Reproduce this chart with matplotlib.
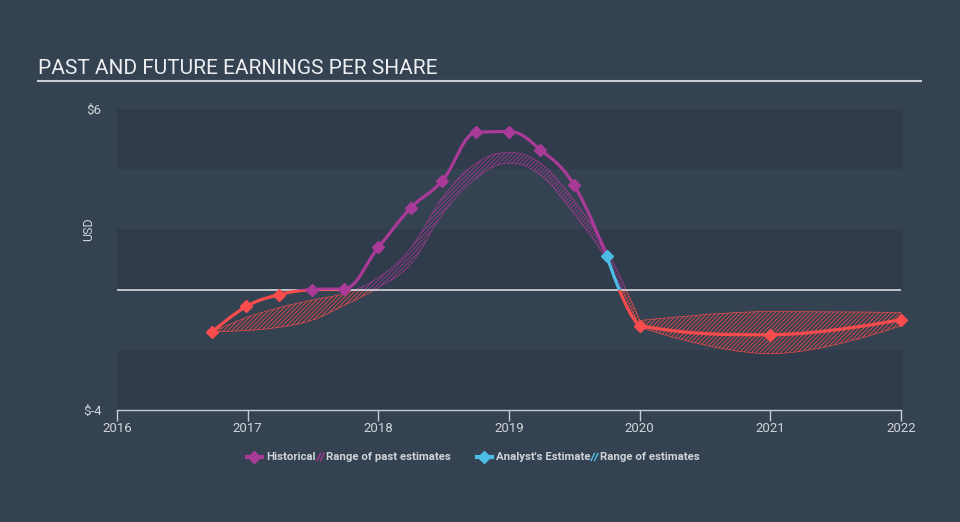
import numpy as np
import matplotlib
matplotlib.use('Agg')
import matplotlib.pyplot as plt
from matplotlib.path import Path
from matplotlib.patches import PathPatch, Rectangle
from matplotlib.lines import Line2D

plt.rcParams['font.family'] = ['Roboto', 'DejaVu Sans']
plt.rcParams['hatch.linewidth'] = 0.6

# Data (decimal year, EPS in USD)
hist_dates = [2016.73, 2016.99, 2017.24, 2017.49, 2017.74, 2018.0, 2018.25,
              2018.49, 2018.75, 2019.0, 2019.24, 2019.5, 2019.75]
hist_eps = [-1.40, -0.56, -0.17, 0.0, 0.03, 1.40, 2.72, 3.62, 5.22, 5.25,
            4.65, 3.46, 1.10]

past_dates = [2016.73, 2016.99, 2017.24, 2017.49, 2017.74, 2018.0, 2018.25,
              2018.49, 2018.75, 2019.0, 2019.24, 2019.5, 2019.75, 2020.0]
past_low = [-1.40, -1.36, -1.25, -1.02, -0.52, 0.07, 0.86, 2.50, 3.70, 4.19,
            3.80, 2.50, 0.95, -1.25]
past_high = [-1.40, -0.93, -0.60, -0.35, -0.12, 0.40, 1.40, 3.05, 4.20, 4.55,
             4.20, 2.95, 1.30, -1.00]

fc_dates = [2019.75, 2020.0, 2021.0, 2022.0]
fc_eps = [1.10, -1.20, -1.50, -1.00]

fc_range_dates = [2020.0, 2021.0, 2022.0]
fc_low = [-1.25, -2.13, -1.20]
fc_high = [-1.03, -0.73, -0.76]

x_ticks = [2016, 2017, 2018, 2019, 2020, 2021, 2022]

BG = '#354251'
BAND = '#303c4b'
MAGENTA = '#a93a98'
RED = '#f94c4c'
BLUE = '#4bbce4'
TXT = '#d0d4d9'
HATCH = '////////'


def spline_verts(xs, ys, smoothing=1.5):
    # cubic bezier control points, highcharts style
    n = len(xs)
    lc = [None] * n
    rc = [None] * n
    for i in range(n):
        x, y = xs[i], ys[i]
        if i == 0 or i == n - 1:
            lc[i] = rc[i] = (x, y)
            continue
        px, py = xs[i - 1], ys[i - 1]
        nx, ny = xs[i + 1], ys[i + 1]
        d = smoothing + 1
        lx, ly = (smoothing * x + px) / d, (smoothing * y + py) / d
        rx, ry = (smoothing * x + nx) / d, (smoothing * y + ny) / d
        if rx != lx:
            corr = ((ry - ly) * (rx - x)) / (rx - lx) + y - ry
            ly += corr
            ry += corr
        if ly > py and ly > y:
            ly = max(py, y); ry = 2 * y - ly
        elif ly < py and ly < y:
            ly = min(py, y); ry = 2 * y - ly
        if ry > ny and ry > y:
            ry = max(ny, y); ly = 2 * y - ry
        elif ry < ny and ry < y:
            ry = min(ny, y); ly = 2 * y - ry
        lc[i] = (lx, ly)
        rc[i] = (rx, ry)
    verts = [(xs[0], ys[0])]
    for i in range(1, n):
        verts += [rc[i - 1], lc[i], (xs[i], ys[i])]
    return verts


def line_path(xs, ys):
    v = spline_verts(xs, ys)
    codes = [Path.MOVETO] + [Path.CURVE4] * (len(v) - 1)
    return Path(v, codes)


def band_path(xs, lo, hi):
    up = spline_verts(xs, hi)
    dn = spline_verts(xs, lo)[::-1]
    verts = up + dn + [up[0]]
    codes = ([Path.MOVETO] + [Path.CURVE4] * (len(up) - 1) +
             [Path.LINETO] + [Path.CURVE4] * (len(dn) - 1) + [Path.CLOSEPOLY])
    return Path(verts, codes)


fig = plt.figure(figsize=(9.6, 5.22), dpi=100, facecolor=BG)
ax = fig.add_axes([117 / 960, 112 / 522, 784 / 960, 301 / 522])
ax.set_facecolor(BG)
ax.set_xlim(2016, 2022)
ax.set_ylim(-4, 6)

# horizontal bands
for y0 in (4, 0, -4):
    ax.axhspan(y0, y0 + 2, xmin=0, xmax=1.002, color=BAND, lw=0, zorder=0,
               clip_on=False)

pos_clip = Rectangle((2010, 0), 20, 20, transform=ax.transData)
neg_clip = Rectangle((2010, -20), 20, 20, transform=ax.transData)


def add_clipped_patch(path, color, clip, hatch=None, lw=2.3, z=3, alpha=1):
    p = PathPatch(path, facecolor='none', edgecolor=color, lw=lw,
                  hatch=hatch, zorder=z, capstyle='round', joinstyle='round',
                  alpha=alpha)
    ax.add_patch(p)
    p.set_clip_path(clip)
    return p


# range of past estimates
bp = band_path(past_dates, past_low, past_high)
add_clipped_patch(bp, MAGENTA, pos_clip, hatch=HATCH, lw=0.5, z=2, alpha=0.9)
add_clipped_patch(bp, RED, neg_clip, hatch=HATCH, lw=0.5, z=2, alpha=0.9)

# range of estimates
fp = band_path(fc_range_dates, fc_low, fc_high)
add_clipped_patch(fp, RED, neg_clip, hatch=HATCH, lw=0.5, z=2, alpha=0.9)

# zero line
ax.axhline(0, color='#e6e8ea', lw=1.1, zorder=2.5)

# historical line
hp = line_path(hist_dates, hist_eps)
add_clipped_patch(hp, MAGENTA, pos_clip)
add_clipped_patch(hp, RED, neg_clip)

# analyst estimate line
ep = line_path(fc_dates, fc_eps)
add_clipped_patch(ep, BLUE, pos_clip)
add_clipped_patch(ep, RED, neg_clip)

# markers
for d, v in zip(hist_dates[:-1], hist_eps[:-1]):
    ax.plot(d, v, marker='D', ms=6.5, color=RED if v < 0 else MAGENTA,
            zorder=5, clip_on=False)
ax.plot(fc_dates[0], fc_eps[0], marker='D', ms=6.5, color=BLUE, zorder=5)
for d, v in zip(fc_dates[1:], fc_eps[1:]):
    ax.plot(d, v, marker='D', ms=6.5, color=RED, zorder=5, clip_on=False)

# axes styling
for s in ('top', 'right', 'left'):
    ax.spines[s].set_visible(False)
ax.spines['bottom'].set_color('#c8ccd1')
ax.spines['bottom'].set_linewidth(1)
ax.set_xticks(x_ticks)
ax.set_xticklabels([str(t) for t in x_ticks])
ax.tick_params(axis='x', colors='#c8ccd1', labelcolor=TXT, labelsize=9.5,
               length=8, width=1, pad=1)
ax.set_yticks([-4, 6])
ax.set_yticklabels(['$-4', '$6'])
ax.tick_params(axis='y', length=0, labelcolor=TXT, labelsize=9.5, pad=11)
ax.set_ylabel('USD', color=TXT, fontsize=9)
ax.yaxis.set_label_coords(-0.028, 0.6)

# title
fig.text(38 / 960, 1 - 68 / 522, 'PAST AND FUTURE EARNINGS PER SHARE',
         color='#eceef0', fontsize=15, va='center', ha='left')
fig.add_artist(Line2D([38 / 960, 921 / 960], [1 - 81 / 522, 1 - 81 / 522],
                      color='#c9cdd2', lw=1.5))


def hatch_swatch(x0, color):
    # two short diagonal strokes
    for dx in (0, 3.5):
        fig.add_artist(Line2D([(x0 + dx) / 960, (x0 + dx + 3.5) / 960],
                              [ly - 3.5 / 522, ly + 3.5 / 522], color=color,
                              lw=1.0))


# legend
ly = 1 - 457 / 522
FS = 8.2
fig.add_artist(Line2D([247 / 960, 262 / 960], [ly, ly], color=MAGENTA, lw=3))
fig.add_artist(Line2D([254.5 / 960], [ly], color=MAGENTA, marker='D', ms=6))
fig.text(266 / 960, ly, 'Historical', color=TXT, fontsize=FS, va='center',
         fontweight='bold')
fig.add_artist(Line2D([477 / 960, 492 / 960], [ly, ly], color=BLUE, lw=3))
fig.add_artist(Line2D([484.5 / 960], [ly], color=BLUE, marker='D', ms=6))
fig.text(496 / 960, ly, "Analyst's Estimate", color=TXT, fontsize=FS,
         va='center', fontweight='bold')
hatch_swatch(317, MAGENTA)
fig.text(326 / 960, ly, 'Range of past estimates', color=TXT, fontsize=FS,
         va='center', fontweight='bold')
hatch_swatch(591, BLUE)
fig.text(600 / 960, ly, 'Range of estimates', color=TXT, fontsize=FS,
         va='center', fontweight='bold')

fig.savefig('out.png', dpi=100, facecolor=BG)
